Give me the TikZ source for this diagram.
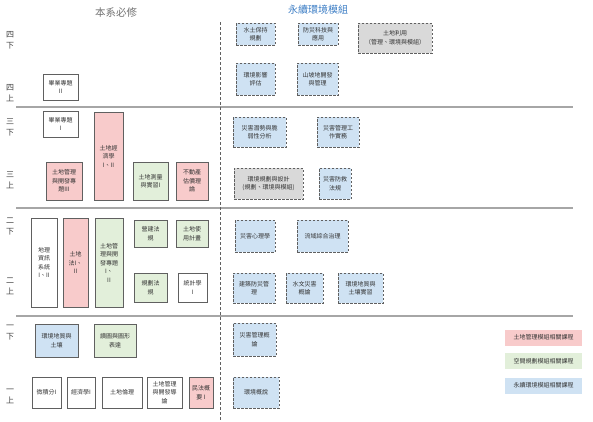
\documentclass[tikz,border=0pt]{standalone}
\usepackage{fontspec}
\newfontfamily\cjk{Noto Sans CJK TC}
\definecolor{landpink}{HTML}{F8CBCB}
\definecolor{spacegreen}{HTML}{E2EFDA}
\definecolor{envblue}{HTML}{CFE2F3}
\definecolor{modgray}{HTML}{D9D9D9}
\definecolor{edgegray}{HTML}{606060}
\definecolor{rulegray}{HTML}{A6A6A6}
\definecolor{titleblue}{HTML}{3A7CC4}
\tikzset{
    course/.style={draw=edgegray, line width=0.8pt, align=center, inner sep=0.5pt,
        text=black!80, font=\cjk\fontsize{6}{8.5}\selectfont},
    sz/.style 2 args={minimum width=#1pt, minimum height=#2pt},
    landc/.style={course, fill=landpink},
    spacec/.style={course, fill=spacegreen},
    envc/.style={course, fill=envblue},
    module/.style={course, fill=envblue, dash pattern=on 2.5pt off 1.5pt},
    modgrey/.style={module, fill=modgray},
    legendbox/.style={fill=#1, minimum width=77pt, minimum height=16pt, inner sep=0pt,
        text=black!80, font=\cjk\fontsize{6}{7}\selectfont},
    yearlabel/.style={align=center, inner sep=0pt, text=black!75, font=\cjk\fontsize{8}{11}\selectfont}
}
\begin{document}
\begin{tikzpicture}[x=1pt, y=-1pt]
    \useasboundingbox (0,0) rectangle (593,421);

    % Titles
    \node[text=black!55, font=\cjk\fontsize{10.5}{12}\selectfont] (core) at (116,12.5) {本系必修};
    \node[text=titleblue, font=\cjk\fontsize{10}{12}\selectfont] (sust) at (318,9.5) {永續環境模組};

    % Year separators
    \foreach \y in {107, 208, 316}{
        \draw [rulegray, line width=1.3pt] (16, \y) -- (573, \y);
    }
    \draw [edgegray, line width=0.7pt, dash pattern=on 3pt off 2pt] (220, 22) -- (220, 421);

    % Year labels
    \foreach \name/\a/\b/\y in {y4b/四/下/40, y4a/四/上/93, y3b/三/下/127, y3a/三/上/180,
                                y2b/二/下/227, y2a/二/上/286, y1b/一/下/333, y1a/一/上/396}{
        \node[yearlabel] (\name) at (10, \y) {\a\\\b};
    }

    % Year 4 / 3 (core)
    \node[course, sz={35}{26}] (proj2) at (60.5, 87) {畢業專題\\II};
    \node[course, sz={35}{26}] (proj1) at (60.5, 124) {畢業專題\\I};
    \node[landc, sz={29}{88}] (landecon) at (108.5, 156) {土地經\\濟學\\I、II};
    \node[landc, sz={36}{38}] (lmtopic3) at (64, 181) {土地管理\\與開發專\\題III};
    \node[spacec, sz={35}{38}] (survey) at (150.5, 181) {土地測量\\與實習I};
    \node[landc, sz={32}{38}] (apprais) at (192, 181) {不動產\\估價理\\論};

    % Year 2 (core)
    \node[course, sz={26}{89}] (gis) at (44, 262.5) {地理\\資訊\\系統\\I、II};
    \node[landc, sz={25}{89}] (landlaw) at (75.5, 262.5) {土地\\法I、\\II};
    \node[spacec, sz={28}{89}] (lmtopic) at (109, 262.5) {土地管\\理與開\\發專題\\I、\\II};
    \node[spacec, sz={33}{27}] (buildlaw) at (150.5, 233.5) {營建法\\規};
    \node[spacec, sz={32}{27}] (landuse) at (192, 233.5) {土地使\\用計畫};
    \node[spacec, sz={33}{29}] (planlaw) at (150.5, 287.5) {規劃法\\規};
    \node[course, sz={29}{29}] (stats) at (192.5, 287.5) {統計學\\I};

    % Year 1 (core)
    \node[envc, sz={43}{33}] (geosoil) at (56.5, 340.5) {環境地質與\\土壤};
    \node[spacec, sz={42}{33}] (mapread) at (115, 340.5) {讀圖與圖形\\表達};
    \node[course, sz={29}{31}] (calc) at (46.5, 392.5) {微積分I};
    \node[course, sz={28}{31}] (econ) at (81, 392.5) {經濟學I};
    \node[course, sz={40}{31}] (ethics) at (122, 392.5) {土地倫理};
    \node[course, sz={35}{31}] (lmintro) at (164.5, 392.5) {土地管理\\與開發導\\論};
    \node[landc, sz={24}{31}] (civil) at (201, 392.5) {民法概\\要 I};

    % Sustainable environment module
    \node[module, sz={39}{22}] (soilcons) at (255.5, 34) {水土保持\\規劃};
    \node[module, sz={40}{22}] (distech) at (318, 34) {防災科技與\\應用};
    \node[modgrey, sz={74}{30}] (landuse2) at (395, 38) {土地利用\\（管理、環境與模組）};
    \node[module, sz={39}{32}] (eia) at (255.5, 79) {環境影響\\評估};
    \node[module, sz={41}{32}] (slope) at (317.5, 79) {山坡地開發\\與管理};
    \node[module, sz={53}{30}] (hazard) at (259.5, 132) {災害潛勢與脆\\弱性分析};
    \node[module, sz={42}{30}] (dispract) at (338, 132) {災害管理工\\作實務};
    \node[modgrey, sz={69}{31}] (envplan) at (268.5, 183.5) {環境規劃與設計\\(規劃、環境與模組)};
    \node[module, sz={32}{31}] (dislaw) at (335, 183.5) {災害防救\\法規};
    \node[module, sz={40}{32}] (dispsy) at (255, 236) {災害心理學};
    \node[module, sz={51}{32}] (basin) at (322.5, 236) {流域綜合治理};
    \node[module, sz={42}{30}] (bldgdis) at (254, 288) {建築防災管\\理};
    \node[module, sz={37}{30}] (hydro) at (304.5, 288) {水文災害\\概論};
    \node[module, sz={45}{30}] (geolab) at (360.5, 288) {環境地質與\\土壤實習};
    \node[module, sz={43}{33}] (disintro) at (254.5, 339.5) {災害管理概\\論};
    \node[module, sz={46}{31}] (envintro) at (256, 392.5) {環境概說};

    % Legend
    \node[legendbox=landpink] (leg1) at (543.5, 337.5) {土地管理模組相關課程};
    \node[legendbox=spacegreen] (leg2) at (543.5, 361) {空間規劃模組相關課程};
    \node[legendbox=envblue] (leg3) at (543.5, 385.5) {永續環境模組相關課程};
\end{tikzpicture}
\end{document}
